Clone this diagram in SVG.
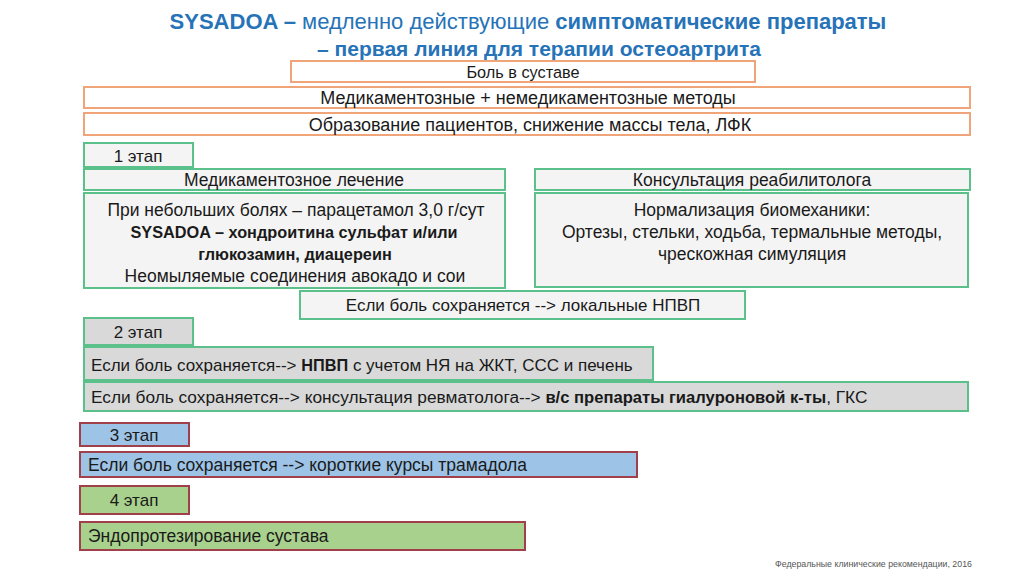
<svg xmlns="http://www.w3.org/2000/svg" width="1024" height="574" viewBox="0 0 1024 574">
<style>
text{font-family:"Liberation Sans",Arial,sans-serif;fill:#1a1a1a;font-size:17px}
.t{fill:#2673B8;font-size:22px}
.t2{font-size:21px}
.c{text-anchor:middle}
.b{font-weight:bold}
.lb{font-size:16.3px}
.m{font-size:17.5px}
.big{font-size:18px}
.o{fill:#fff;stroke:#F0A47A;stroke-width:2}
.g{fill:#F4F4F4;stroke:#5CC08A;stroke-width:2}
.gg{fill:#D9D9D9;stroke:#5CC08A;stroke-width:2}
.bl{fill:#9DC3E6;stroke:#A0404A;stroke-width:2}
.gr{fill:#A9D18E;stroke:#A0404A;stroke-width:2}
</style>
<rect width="1024" height="574" fill="#fff"/>
<g id="title">
<text class="t c" x="528" y="29"><tspan class="b">SYSADOA –</tspan> медленно действующие <tspan class="b">симптоматические препараты</tspan></text>
<text class="t t2 c b" x="539" y="56">– первая  линия для  терапии остеоартрита</text>
</g>
<g id="n1"><rect class="o" x="291" y="61" width="464" height="21"/><text class="c" x="523" y="77.5" style="font-size:16.3px">Боль в суставе</text></g>
<g id="n2"><rect class="o" x="84" y="87" width="886" height="21"/><text class="c big" x="528" y="104">Медикаментозные + немедикаментозные методы</text></g>
<g id="n3"><rect class="o" x="84" y="113" width="886" height="22"/><text class="c big" x="530" y="130.5">Образование пациентов, снижение массы тела, ЛФК</text></g>
<g id="s1"><rect class="g" x="84" y="143" width="109" height="24"/><text class="c" x="138" y="161.5">1 этап</text></g>
<g id="n4"><rect class="g" x="84" y="169" width="421" height="21"/><text class="c m" x="294" y="186">Медикаментозное лечение</text></g>
<g id="n5"><rect class="g" x="84" y="193" width="421" height="95"/>
<text class="c m" x="296" y="216">При небольших болях – парацетамол 3,0 г/сут</text>
<text class="c b lb" x="294" y="238">SYSADOA – хондроитина сульфат и/или</text>
<text class="c b lb" x="295" y="260">глюкозамин, диацереин</text>
<text class="c m" x="295" y="282">Неомыляемые соединения авокадо и сои</text></g>
<g id="n6"><rect class="g" x="535" y="169" width="435" height="21"/><text class="c m" x="752" y="186">Консультация реабилитолога</text></g>
<g id="n7"><rect class="g" x="535" y="193" width="433" height="94"/>
<text class="c m" x="752" y="216">Нормализация биомеханики:</text>
<text class="c m" x="752" y="238">Ортезы, стельки, ходьба, термальные методы,</text>
<text class="c m" x="752" y="260">чрескожная симуляция</text></g>
<g id="n8"><rect class="g" x="300" y="291" width="445" height="28"/><text class="c" x="523" y="311">Если боль сохраняется --&gt; локальные НПВП</text></g>
<g id="s2"><rect class="gg" x="84" y="318" width="109" height="27"/><text class="c" x="138" y="337.5">2 этап</text></g>
<g id="n9"><rect class="gg" x="84" y="347" width="569" height="33"/><text x="91" y="371">Если боль сохраняется--&gt; <tspan class="b lb">НПВП</tspan> с учетом НЯ на ЖКТ, ССС и печень</text></g>
<g id="n10"><rect class="gg" x="84" y="382" width="884" height="29"/><text x="91" y="402.5" style="font-size:17.3px">Если боль сохраняется--&gt; консультация ревматолога--&gt; <tspan class="b" style="font-size:16.6px">в/с препараты гиалуроновой к-ты</tspan>, ГКС</text></g>
<g id="s3"><rect class="bl" x="80" y="423" width="109" height="23"/><text class="c" x="134" y="440.5">3 этап</text></g>
<g id="n11"><rect class="bl" x="80" y="452" width="557" height="25"/><text class="m" x="88" y="470.5">Если боль сохраняется --&gt; короткие курсы трамадола</text></g>
<g id="s4"><rect class="gr" x="80" y="486" width="109" height="28"/><text class="c" x="134" y="506">4 этап</text></g>
<g id="n12"><rect class="gr" x="80" y="522" width="445" height="28"/><text class="m" x="88" y="542">Эндопротезирование сустава</text></g>
<g id="connectors"></g>
<text x="775" y="567" style="font-size:8.8px;fill:#555">Федеральные клинические рекомендации, 2016</text>
</svg>
